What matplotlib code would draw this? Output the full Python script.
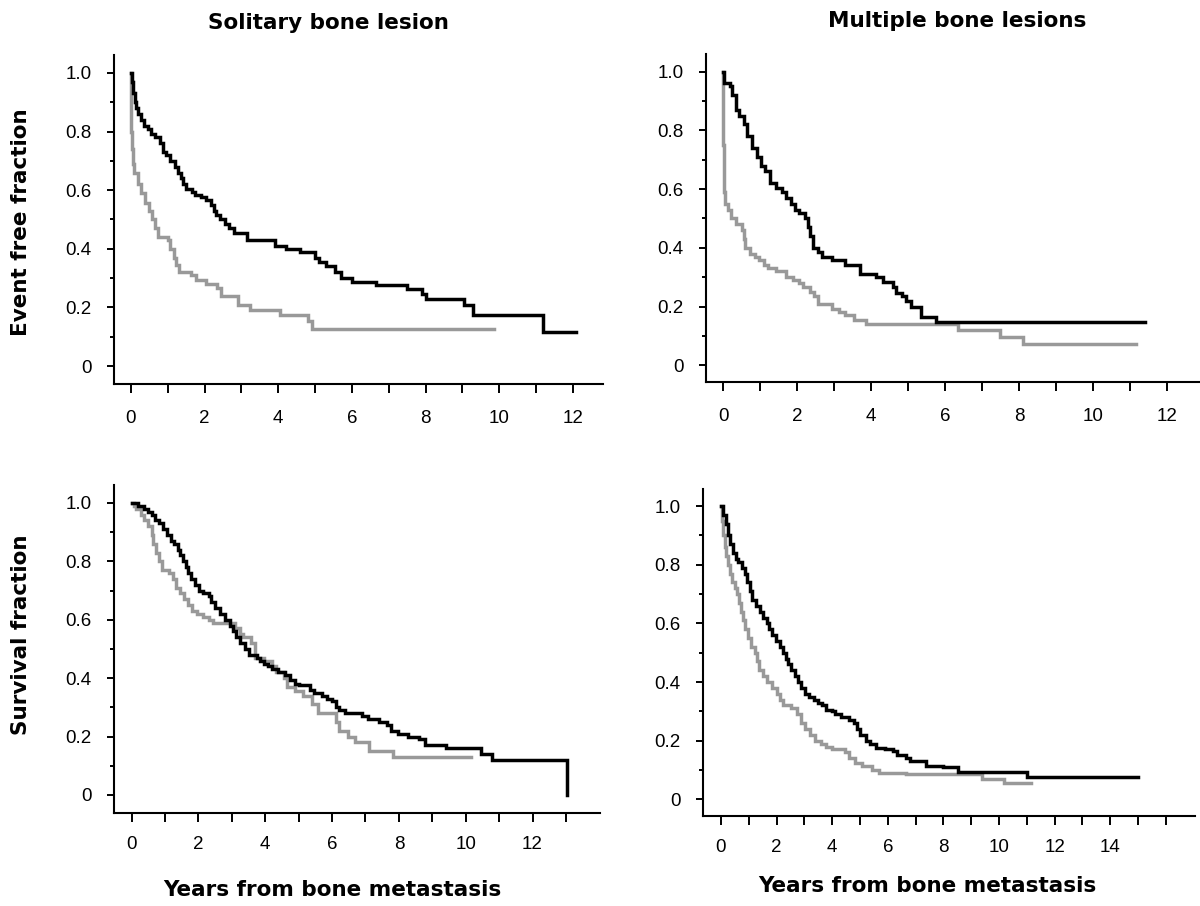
import numpy as np
import matplotlib
matplotlib.use("Agg")
import matplotlib.pyplot as plt

# Kaplan-Meier step data (years, fraction)
# top left: event free, solitary bone lesion
efs_sol_black_t = [0, 0.03, 0.06, 0.10, 0.15, 0.20, 0.28, 0.36, 0.45, 0.55,
                   0.65, 0.80, 0.88, 0.95, 1.07, 1.20, 1.28, 1.35, 1.42, 1.50,
                   1.65, 1.75, 1.90, 2.05, 2.18, 2.25, 2.32, 2.42, 2.55, 2.65,
                   2.80, 3.15, 3.90, 4.20, 4.60, 5.00, 5.10, 5.30, 5.55, 5.70,
                   6.00, 6.65, 7.50, 7.90, 8.00, 9.05, 9.30, 11.18, 12.1]
efs_sol_black_s = [1.0, 0.97, 0.93, 0.90, 0.88, 0.86, 0.84, 0.82, 0.81, 0.79,
                   0.78, 0.76, 0.73, 0.72, 0.70, 0.68, 0.66, 0.64, 0.62, 0.605,
                   0.595, 0.585, 0.575, 0.565, 0.55, 0.53, 0.515, 0.50, 0.485, 0.47,
                   0.455, 0.43, 0.41, 0.40, 0.39, 0.37, 0.355, 0.34, 0.32, 0.30,
                   0.287, 0.275, 0.264, 0.247, 0.228, 0.207, 0.175, 0.116, 0.116]
efs_sol_gray_t = [0, 0.005, 0.01, 0.02, 0.05, 0.09, 0.18, 0.28, 0.38, 0.49,
                  0.57, 0.64, 0.74, 1.00, 1.05, 1.16, 1.23, 1.31, 1.62, 1.78,
                  2.04, 2.35, 2.45, 2.91, 3.22, 4.05, 4.82, 4.93, 9.85]
efs_sol_gray_s = [1.0, 0.88, 0.80, 0.74, 0.69, 0.66, 0.62, 0.59, 0.555, 0.53,
                  0.50, 0.47, 0.44, 0.43, 0.40, 0.37, 0.345, 0.32, 0.31, 0.295,
                  0.28, 0.265, 0.24, 0.207, 0.19, 0.173, 0.154, 0.127, 0.127]

# top right: event free, multiple bone lesions
efs_mul_black_t = [0, 0.03, 0.19, 0.24, 0.34, 0.44, 0.55, 0.65, 0.78, 0.91,
                   1.01, 1.14, 1.27, 1.43, 1.58, 1.69, 1.84, 1.94, 2.05, 2.20,
                   2.28, 2.36, 2.43, 2.56, 2.67, 2.93, 3.29, 3.70, 4.12, 4.32,
                   4.58, 4.68, 4.84, 4.94, 5.07, 5.36, 5.75, 11.4]
efs_mul_black_s = [1.0, 0.96, 0.95, 0.92, 0.87, 0.85, 0.82, 0.78, 0.74, 0.71,
                   0.68, 0.66, 0.62, 0.605, 0.59, 0.57, 0.55, 0.53, 0.52, 0.50,
                   0.47, 0.44, 0.40, 0.385, 0.37, 0.36, 0.34, 0.31, 0.30, 0.285,
                   0.267, 0.247, 0.235, 0.22, 0.20, 0.165, 0.148, 0.148]
efs_mul_gray_t = [0, 0.005, 0.01, 0.02, 0.04, 0.06, 0.13, 0.21, 0.34, 0.50,
                  0.55, 0.60, 0.72, 0.86, 0.96, 1.10, 1.22, 1.43, 1.69, 1.89,
                  2.05, 2.15, 2.36, 2.46, 2.57, 2.93, 3.13, 3.29, 3.55, 3.86,
                  6.34, 7.48, 8.10, 11.15]
efs_mul_gray_s = [1.0, 0.75, 0.63, 0.59, 0.57, 0.55, 0.53, 0.50, 0.48, 0.46,
                  0.43, 0.40, 0.38, 0.37, 0.36, 0.34, 0.33, 0.32, 0.30, 0.29,
                  0.28, 0.265, 0.25, 0.235, 0.21, 0.19, 0.18, 0.17, 0.155, 0.142,
                  0.12, 0.095, 0.072, 0.072]

# bottom left: survival, solitary bone lesion
os_sol_black_t = [0, 0.19, 0.37, 0.48, 0.60, 0.71, 0.82, 0.94, 1.05, 1.17,
                  1.28, 1.40, 1.45, 1.55, 1.63, 1.68, 1.78, 1.91, 2.03, 2.14,
                  2.31, 2.39, 2.49, 2.66, 2.81, 2.95, 3.04, 3.12, 3.23, 3.38,
                  3.52, 3.75, 3.84, 3.97, 4.09, 4.20, 4.38, 4.60, 4.75, 4.89,
                  5.01, 5.35, 5.46, 5.69, 5.86, 6.01, 6.13, 6.21, 6.38, 6.90,
                  7.07, 7.41, 7.64, 7.75, 7.98, 8.27, 8.61, 8.79, 9.42, 10.45,
                  10.79, 13.02]
os_sol_black_s = [1.0, 0.99, 0.98, 0.97, 0.96, 0.94, 0.93, 0.91, 0.89, 0.87,
                  0.86, 0.84, 0.82, 0.80, 0.78, 0.76, 0.74, 0.72, 0.70, 0.69,
                  0.68, 0.66, 0.64, 0.62, 0.60, 0.58, 0.56, 0.54, 0.52, 0.50,
                  0.48, 0.47, 0.46, 0.45, 0.44, 0.43, 0.42, 0.41, 0.395, 0.38,
                  0.375, 0.36, 0.35, 0.34, 0.33, 0.32, 0.30, 0.29, 0.28, 0.27,
                  0.26, 0.25, 0.24, 0.22, 0.21, 0.20, 0.19, 0.17, 0.16, 0.14,
                  0.12, 0.0]
os_sol_gray_t = [0, 0.08, 0.14, 0.29, 0.37, 0.48, 0.60, 0.65, 0.74, 0.82,
                 0.90, 1.11, 1.23, 1.34, 1.45, 1.57, 1.68, 1.80, 1.97, 2.14,
                 2.31, 2.43, 3.08, 3.23, 3.34, 3.57, 3.69, 3.97, 4.20, 4.32,
                 4.55, 4.64, 4.89, 5.12, 5.41, 5.58, 6.13, 6.21, 6.49, 6.70,
                 7.12, 7.81, 10.16]
os_sol_gray_s = [1.0, 0.99, 0.98, 0.96, 0.94, 0.92, 0.89, 0.86, 0.83, 0.80,
                 0.77, 0.76, 0.74, 0.71, 0.69, 0.67, 0.65, 0.63, 0.62, 0.61,
                 0.60, 0.59, 0.57, 0.55, 0.54, 0.52, 0.47, 0.46, 0.44, 0.42,
                 0.40, 0.37, 0.355, 0.34, 0.31, 0.28, 0.25, 0.22, 0.20, 0.18,
                 0.15, 0.13, 0.13]

# bottom right: survival, multiple bone lesions
os_mul_black_t = [0, 0.08, 0.17, 0.26, 0.33, 0.44, 0.54, 0.63, 0.74, 0.85,
                  0.95, 1.05, 1.13, 1.27, 1.40, 1.50, 1.64, 1.74, 1.85, 1.98,
                  2.12, 2.23, 2.33, 2.40, 2.53, 2.67, 2.78, 2.88, 3.02, 3.15,
                  3.33, 3.50, 3.64, 3.77, 3.98, 4.12, 4.33, 4.60, 4.77, 4.88,
                  5.01, 5.22, 5.36, 5.56, 5.91, 6.18, 6.32, 6.67, 6.80, 7.36,
                  7.98, 8.53, 11.0, 15.0]
os_mul_black_s = [1.0, 0.97, 0.94, 0.90, 0.87, 0.84, 0.82, 0.81, 0.79, 0.77,
                  0.74, 0.71, 0.68, 0.66, 0.64, 0.62, 0.60, 0.58, 0.56, 0.54,
                  0.52, 0.50, 0.48, 0.46, 0.44, 0.42, 0.40, 0.38, 0.36, 0.35,
                  0.34, 0.33, 0.32, 0.305, 0.30, 0.29, 0.28, 0.27, 0.26, 0.24,
                  0.22, 0.20, 0.19, 0.175, 0.17, 0.165, 0.15, 0.14, 0.13, 0.115,
                  0.11, 0.093, 0.076, 0.076]
os_mul_gray_t = [0, 0.03, 0.08, 0.14, 0.19, 0.26, 0.33, 0.40, 0.50, 0.58,
                 0.65, 0.72, 0.81, 0.88, 0.99, 1.09, 1.23, 1.29, 1.36, 1.50,
                 1.64, 1.82, 2.01, 2.12, 2.23, 2.51, 2.74, 2.88, 3.02, 3.20,
                 3.39, 3.61, 3.77, 3.98, 4.46, 4.60, 4.81, 5.08, 5.43, 5.70,
                 6.67, 9.38, 10.18, 11.14]
os_mul_gray_s = [1.0, 0.95, 0.90, 0.86, 0.83, 0.80, 0.77, 0.74, 0.72, 0.70,
                 0.67, 0.64, 0.61, 0.58, 0.55, 0.52, 0.50, 0.47, 0.44, 0.42,
                 0.40, 0.38, 0.36, 0.34, 0.32, 0.31, 0.29, 0.26, 0.24, 0.22,
                 0.20, 0.19, 0.18, 0.17, 0.16, 0.14, 0.125, 0.115, 0.10, 0.09,
                 0.085, 0.07, 0.055, 0.055]

y_ticks = [0, 0.2, 0.4, 0.6, 0.8, 1.0]
y_tick_labels = ["0", "0.2", "0.4", "0.6", "0.8", "1.0"]
y_minor = [0.1, 0.3, 0.5, 0.7, 0.9]

titles = ["Solitary bone lesion", "Multiple bone lesions"]
row_labels = ["Event free fraction", "Survival fraction"]
x_title = "Years from bone metastasis"

BLACK = "#000000"
GRAY = "#999999"
TICKFONT = "Liberation Sans"
BOLDFONT = "DejaVu Sans"

fig = plt.figure(figsize=(12, 9.06), dpi=100)

# panel layout: [left, bottom, width, height], limits, ticks, label pad
panels = [
    dict(rect=[0.095, 0.5762, 0.4075, 0.3631], xlim=(-0.46, 12.82), ylim=(-0.061, 1.061),
         nticks=12, maxlab=12, pad=12,
         black=(efs_sol_black_t, efs_sol_black_s), gray=(efs_sol_gray_t, efs_sol_gray_s)),
    dict(rect=[0.5883, 0.5784, 0.4117, 0.362], xlim=(-0.465, 12.89), ylim=(-0.057, 1.06),
         nticks=12, maxlab=12, pad=12,
         black=(efs_mul_black_t, efs_mul_black_s), gray=(efs_mul_gray_t, efs_mul_gray_s)),
    dict(rect=[0.095, 0.1026, 0.405, 0.362], xlim=(-0.527, 14.02), ylim=(-0.062, 1.061),
         nticks=13, maxlab=12, pad=10,
         black=(os_sol_black_t, os_sol_black_s), gray=(os_sol_gray_t, os_sol_gray_s)),
    dict(rect=[0.5858, 0.0993, 0.41, 0.3609], xlim=(-0.647, 17.05), ylim=(-0.057, 1.058),
         nticks=16, maxlab=14, pad=10,
         black=(os_mul_black_t, os_mul_black_s), gray=(os_mul_gray_t, os_mul_gray_s)),
]

for p in panels:
    ax = fig.add_axes(p["rect"])
    gt, gs = p["gray"]
    bt, bs = p["black"]
    ax.step(gt, gs, where="post", color=GRAY, lw=2.5, solid_joinstyle="miter")
    ax.step(bt, bs, where="post", color=BLACK, lw=2.5, solid_joinstyle="miter")
    ax.set_xlim(*p["xlim"])
    ax.set_ylim(*p["ylim"])

    for side in ["top", "right"]:
        ax.spines[side].set_visible(False)
    for side in ["left", "bottom"]:
        ax.spines[side].set_linewidth(1.5)

    xt = list(range(0, p["nticks"] + 1))
    ax.set_xticks(xt)
    ax.set_xticklabels([str(v) if (v % 2 == 0 and v <= p["maxlab"]) else "" for v in xt])
    ax.set_yticks(y_ticks)
    ax.set_yticklabels(y_tick_labels)
    ax.set_yticks(y_minor, minor=True)

    ax.tick_params(axis="x", direction="out", length=6.5, width=1.4, pad=p["pad"],
                   labelsize=13.5)
    ax.tick_params(axis="y", which="major", direction="out", length=5, width=1.4,
                   pad=11, labelsize=13.5)
    ax.tick_params(axis="y", which="minor", direction="out", length=2.8, width=1.4)
    for lab in ax.get_xticklabels() + ax.get_yticklabels():
        lab.set_fontfamily(TICKFONT)

# column titles, row labels, x titles
fig.text(0.274, 0.9746, titles[0], ha="center", va="center", fontsize=15.5,
         fontweight="bold", family=BOLDFONT)
fig.text(0.7975, 0.977, titles[1], ha="center", va="center", fontsize=15.5,
         fontweight="bold", family=BOLDFONT)
fig.text(0.0175, 0.755, row_labels[0], ha="center", va="center", rotation=90,
         fontsize=15.5, fontweight="bold", family=BOLDFONT)
fig.text(0.0175, 0.299, row_labels[1], ha="center", va="center", rotation=90,
         fontsize=15.5, fontweight="bold", family=BOLDFONT)
fig.text(0.277, 0.0177, x_title, ha="center", va="center", fontsize=15.5,
         fontweight="bold", family=BOLDFONT)
fig.text(0.7725, 0.022, x_title, ha="center", va="center", fontsize=15.5,
         fontweight="bold", family=BOLDFONT)

fig.savefig("out.png", dpi=100, facecolor="white")
